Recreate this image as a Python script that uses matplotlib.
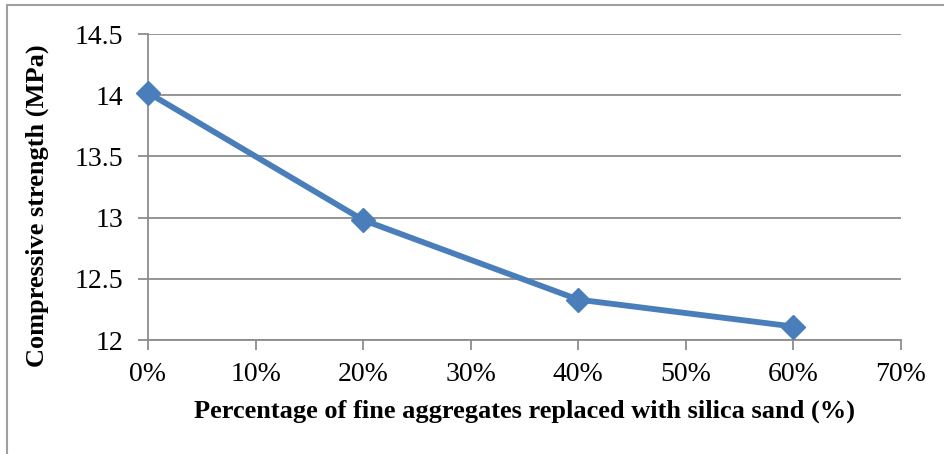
"""
	Compressive strength vs. percentage of fine aggregates replaced with silica sand.
"""

import matplotlib
matplotlib.use('Agg')
import matplotlib.pyplot as plt
from matplotlib.ticker import FuncFormatter
from matplotlib.patches import Rectangle

# data
replacement = [0, 20, 40, 60]          # % silica sand
strength = [14.02, 12.98, 12.33, 12.11]  # MPa

x_ticks = [0, 10, 20, 30, 40, 50, 60, 70]
y_ticks = [12, 12.5, 13, 13.5, 14, 14.5]

plt.rcParams['font.family'] = ['Liberation Serif', 'DejaVu Serif']

grey = '#8c8c8c'
blue = '#4a7ebb'

fig = plt.figure(figsize=(9.44, 4.54), dpi=100)
ax = fig.add_axes([148 / 944, 1 - 340 / 454, (901 - 148) / 944, (340 - 34) / 454])

# outer frame (cut off at right and bottom like the screenshot)
fig.patches.append(Rectangle((6.5 / 944, -0.2), 1.5, 1 - 5.5 / 454 + 0.2,
                             transform=fig.transFigure, fill=False,
                             edgecolor='#a0a0a0', linewidth=1.5))

ax.plot(replacement, strength, color=blue, linewidth=4.2,
        marker='D', markersize=12, markerfacecolor=blue, markeredgecolor=blue,
        zorder=3, clip_on=False)

ax.set_xlim(0, 70)
ax.set_ylim(12, 14.5)
ax.set_xticks(x_ticks)
ax.set_yticks(y_ticks)
ax.xaxis.set_major_formatter(FuncFormatter(lambda v, p: '%d%%' % v))
ax.yaxis.set_major_formatter(FuncFormatter(lambda v, p: ('%g' % v)))

ax.grid(axis='y', color=grey, linewidth=1.3)
ax.set_axisbelow(True)
for side in ['top', 'right']:
	ax.spines[side].set_visible(False)
for side in ['left', 'bottom']:
	ax.spines[side].set_color(grey)
	ax.spines[side].set_linewidth(1.3)

ax.tick_params(axis='both', direction='out', length=7, width=1.3, color=grey,
               labelsize=20, labelcolor='black')
ax.tick_params(axis='x', pad=9)
ax.tick_params(axis='y', pad=11)

ax.set_xlabel('Percentage of fine aggregates replaced with silica sand (%)',
              fontsize=19, fontweight='bold', labelpad=9)
ax.set_ylabel('Compressive strength (MPa)', fontsize=19, fontweight='bold')
ax.yaxis.set_label_coords(-0.131, 0.44)

fig.savefig('out.png', dpi=100)
